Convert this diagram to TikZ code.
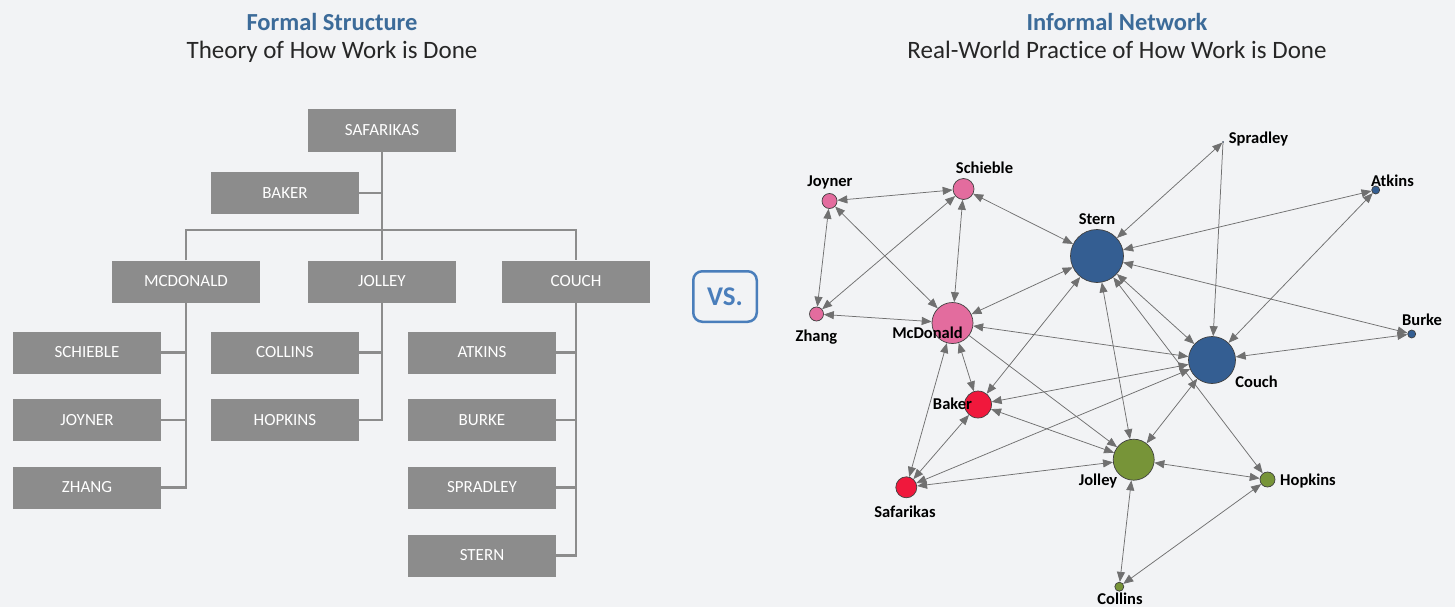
\documentclass[tikz,border=0pt]{standalone}
\usepackage{fontspec}
\setmainfont{Carlito}[Ligatures=NoCommon]
\usetikzlibrary{arrows.meta}

\definecolor{paper}{HTML}{F2F3F5}
\definecolor{boxgray}{HTML}{8C8C8C}
\definecolor{linkgray}{HTML}{707070}
\definecolor{headblue}{HTML}{3C6B99}
\definecolor{vsblue}{HTML}{4A7EBB}
\definecolor{pinkc}{HTML}{E36C9E}
\definecolor{redc}{HTML}{F0183C}
\definecolor{bluec}{HTML}{345E92}
\definecolor{greenc}{HTML}{779438}

\tikzset{
  head/.style={anchor=base,text=headblue,font=\bfseries\fontsize{24.5}{27}\selectfont},
  sub/.style={anchor=base,text=black!85,font=\fontsize{25}{28}\selectfont},
  post/.style={fill=boxgray,text=white,minimum width=148pt,minimum height=42pt,
    inner sep=0pt,font=\fontsize{17}{20}\selectfont},
  tie/.style={draw=boxgray,line width=2.6pt},
  actor/.style={circle,draw=black!75,line width=0.7pt,inner sep=0pt},
  who/.style={anchor=base,font=\bfseries\fontsize{16.5}{18}\selectfont},
  link/.style={draw=linkgray,line width=0.75pt,
    {Triangle[length=10pt,width=8pt]}-{Triangle[length=10pt,width=8pt]}},
  oneway/.style={link,-{Triangle[length=10pt,width=8pt]}}
}

\begin{document}
\begin{tikzpicture}[x=1pt,y=-1pt]
\fill[paper] (0,0) rectangle (1455,607);
\useasboundingbox (0,0) rectangle (1455,607);

% headings
\node[head] (formal) at (332,31) {Formal Structure};
\node[sub] (theory) at (332,59) {Theory of How Work is Done};
\node[head] (informal) at (1117,31) {Informal Network};
\node[sub] (practice) at (1117,59) {Real-World Practice of How Work is Done};

% org chart
\node[post] (osaf) at (382,130.5) {SAFARIKAS};
\node[post] (obak) at (285,193) {BAKER};
\node[post] (omcd) at (186,281.5) {MCDONALD};
\node[post] (ojol) at (382,281.5) {JOLLEY};
\node[post] (ocou) at (576,281.5) {COUCH};
\node[post] (osch) at (87,352.5) {SCHIEBLE};
\node[post] (ojoy) at (87,420) {JOYNER};
\node[post] (ozha) at (87,487.5) {ZHANG};
\node[post] (ocol) at (285,352.5) {COLLINS};
\node[post] (ohop) at (285,420) {HOPKINS};
\node[post] (oatk) at (482,352.5) {ATKINS};
\node[post] (obur) at (482,420) {BURKE};
\node[post] (ospr) at (482,487.5) {SPRADLEY};
\node[post] (oste) at (482,555.5) {STERN};

\coordinate (split) at (382,230);
\draw[tie] (osaf.south) -- (split);
\draw[tie] (obak.east) -- (obak.east -| split);
\draw[tie] (omcd.north) |- (split) -| (ocou.north);
\draw[tie] (split) -- (ojol.north);
\draw[tie] (omcd.south) |- (ozha.east);
\draw[tie] (osch.east) -- (osch.east -| omcd.south);
\draw[tie] (ojoy.east) -- (ojoy.east -| omcd.south);
\draw[tie] (ojol.south) |- (ohop.east);
\draw[tie] (ocol.east) -- (ocol.east -| ojol.south);
\draw[tie] (ocou.south) |- (oste.east);
\draw[tie] (oatk.east) -- (oatk.east -| ocou.south);
\draw[tie] (obur.east) -- (obur.east -| ocou.south);
\draw[tie] (ospr.east) -- (ospr.east -| ocou.south);

\node[draw=vsblue,line width=2.5pt,rounded corners=9pt,minimum width=63.5pt,
  minimum height=50.5pt,text=vsblue,font=\bfseries\fontsize{27}{30}\selectfont]
  (vs) at (725,296.5) {VS.};

% network
\node[actor,fill=pinkc,minimum size=41pt] (mcdonald) at (952.5,323) {};
\node[actor,fill=pinkc,minimum size=21pt] (schieble) at (963.5,189) {};
\node[actor,fill=pinkc,minimum size=15pt] (joyner) at (829.5,201) {};
\node[actor,fill=pinkc,minimum size=14pt] (zhang) at (816.5,314) {};
\node[actor,fill=redc,minimum size=27pt] (baker) at (978,404.5) {};
\node[actor,fill=redc,minimum size=21pt] (safarikas) at (906.3,487.3) {};
\node[actor,fill=bluec,minimum size=53pt] (stern) at (1097,256) {};
\node[actor,fill=bluec,minimum size=47pt] (couch) at (1212,360) {};
\node[actor,fill=bluec,minimum size=8pt] (atkins) at (1375.7,190) {};
\node[actor,fill=bluec,minimum size=8pt] (burke) at (1411.7,334) {};
\node[actor,fill=bluec,line width=0.3pt,minimum size=1.5pt] (spradley) at (1223,142) {};
\node[actor,fill=greenc,minimum size=41pt] (jolley) at (1133.7,459.7) {};
\node[actor,fill=greenc,minimum size=15pt] (hopkins) at (1267.5,479.5) {};
\node[actor,fill=greenc,minimum size=9pt] (collins) at (1119.3,586.7) {};

\draw[link] (joyner) -- (schieble);
\draw[link] (joyner) -- (zhang);
\draw[link] (joyner) -- (mcdonald);
\draw[link] (schieble) -- (zhang);
\draw[link] (schieble) -- (mcdonald);
\draw[link] (schieble) -- (stern);
\draw[link] (zhang) -- (mcdonald);
\draw[link] (mcdonald) -- (stern);
\draw[link] (mcdonald) -- (couch);
\draw[oneway] (mcdonald) -- (jolley);
\draw[link] (mcdonald) -- (baker);
\draw[link] (mcdonald) -- (safarikas);
\draw[link] (stern) -- (baker);
\draw[link] (stern) -- (spradley);
\draw[link] (stern) -- (atkins);
\draw[link] (stern) -- (burke);
\draw[link] (stern) -- (couch);
\draw[link] (stern) -- (jolley);
\draw[link] (stern) -- (hopkins);
\draw[oneway] (spradley) -- (couch);
\draw[link] (atkins) -- (couch);
\draw[link] (burke) -- (couch);
\draw[link] (couch) -- (baker);
\draw[link] (couch) -- (safarikas);
\draw[link] (couch) -- (jolley);
\draw[link] (baker) -- (jolley);
\draw[link] (baker) -- (safarikas);
\draw[link] (safarikas) -- (jolley);
\draw[link] (jolley) -- (hopkins);
\draw[link] (jolley) -- (collins);
\draw[link] (hopkins) -- (collins);

% names go on top of the circles
\node[who] (joyner-n) at (830,186) {Joyner};
\node[who] (schieble-n) at (984.5,173) {Schieble};
\node[who] (stern-n) at (1097,224) {Stern};
\node[who] (spradley-n) at (1258.5,143) {Spradley};
\node[who] (atkins-n) at (1392.5,186) {Atkins};
\node[who] (burke-n) at (1422,325) {Burke};
\node[who] (couch-n) at (1256.5,387) {Couch};
\node[who] (zhang-n) at (816.5,341) {Zhang};
\node[who] (mcdonald-n) at (927.5,338) {McDonald};
\node[who] (baker-n) at (952.5,409) {Baker};
\node[who] (safarikas-n) at (905,517) {Safarikas};
\node[who] (jolley-n) at (1098,485) {Jolley};
\node[who] (hopkins-n) at (1308,485) {Hopkins};
\node[who] (collins-n) at (1120,604) {Collins};
\end{tikzpicture}
\end{document}
